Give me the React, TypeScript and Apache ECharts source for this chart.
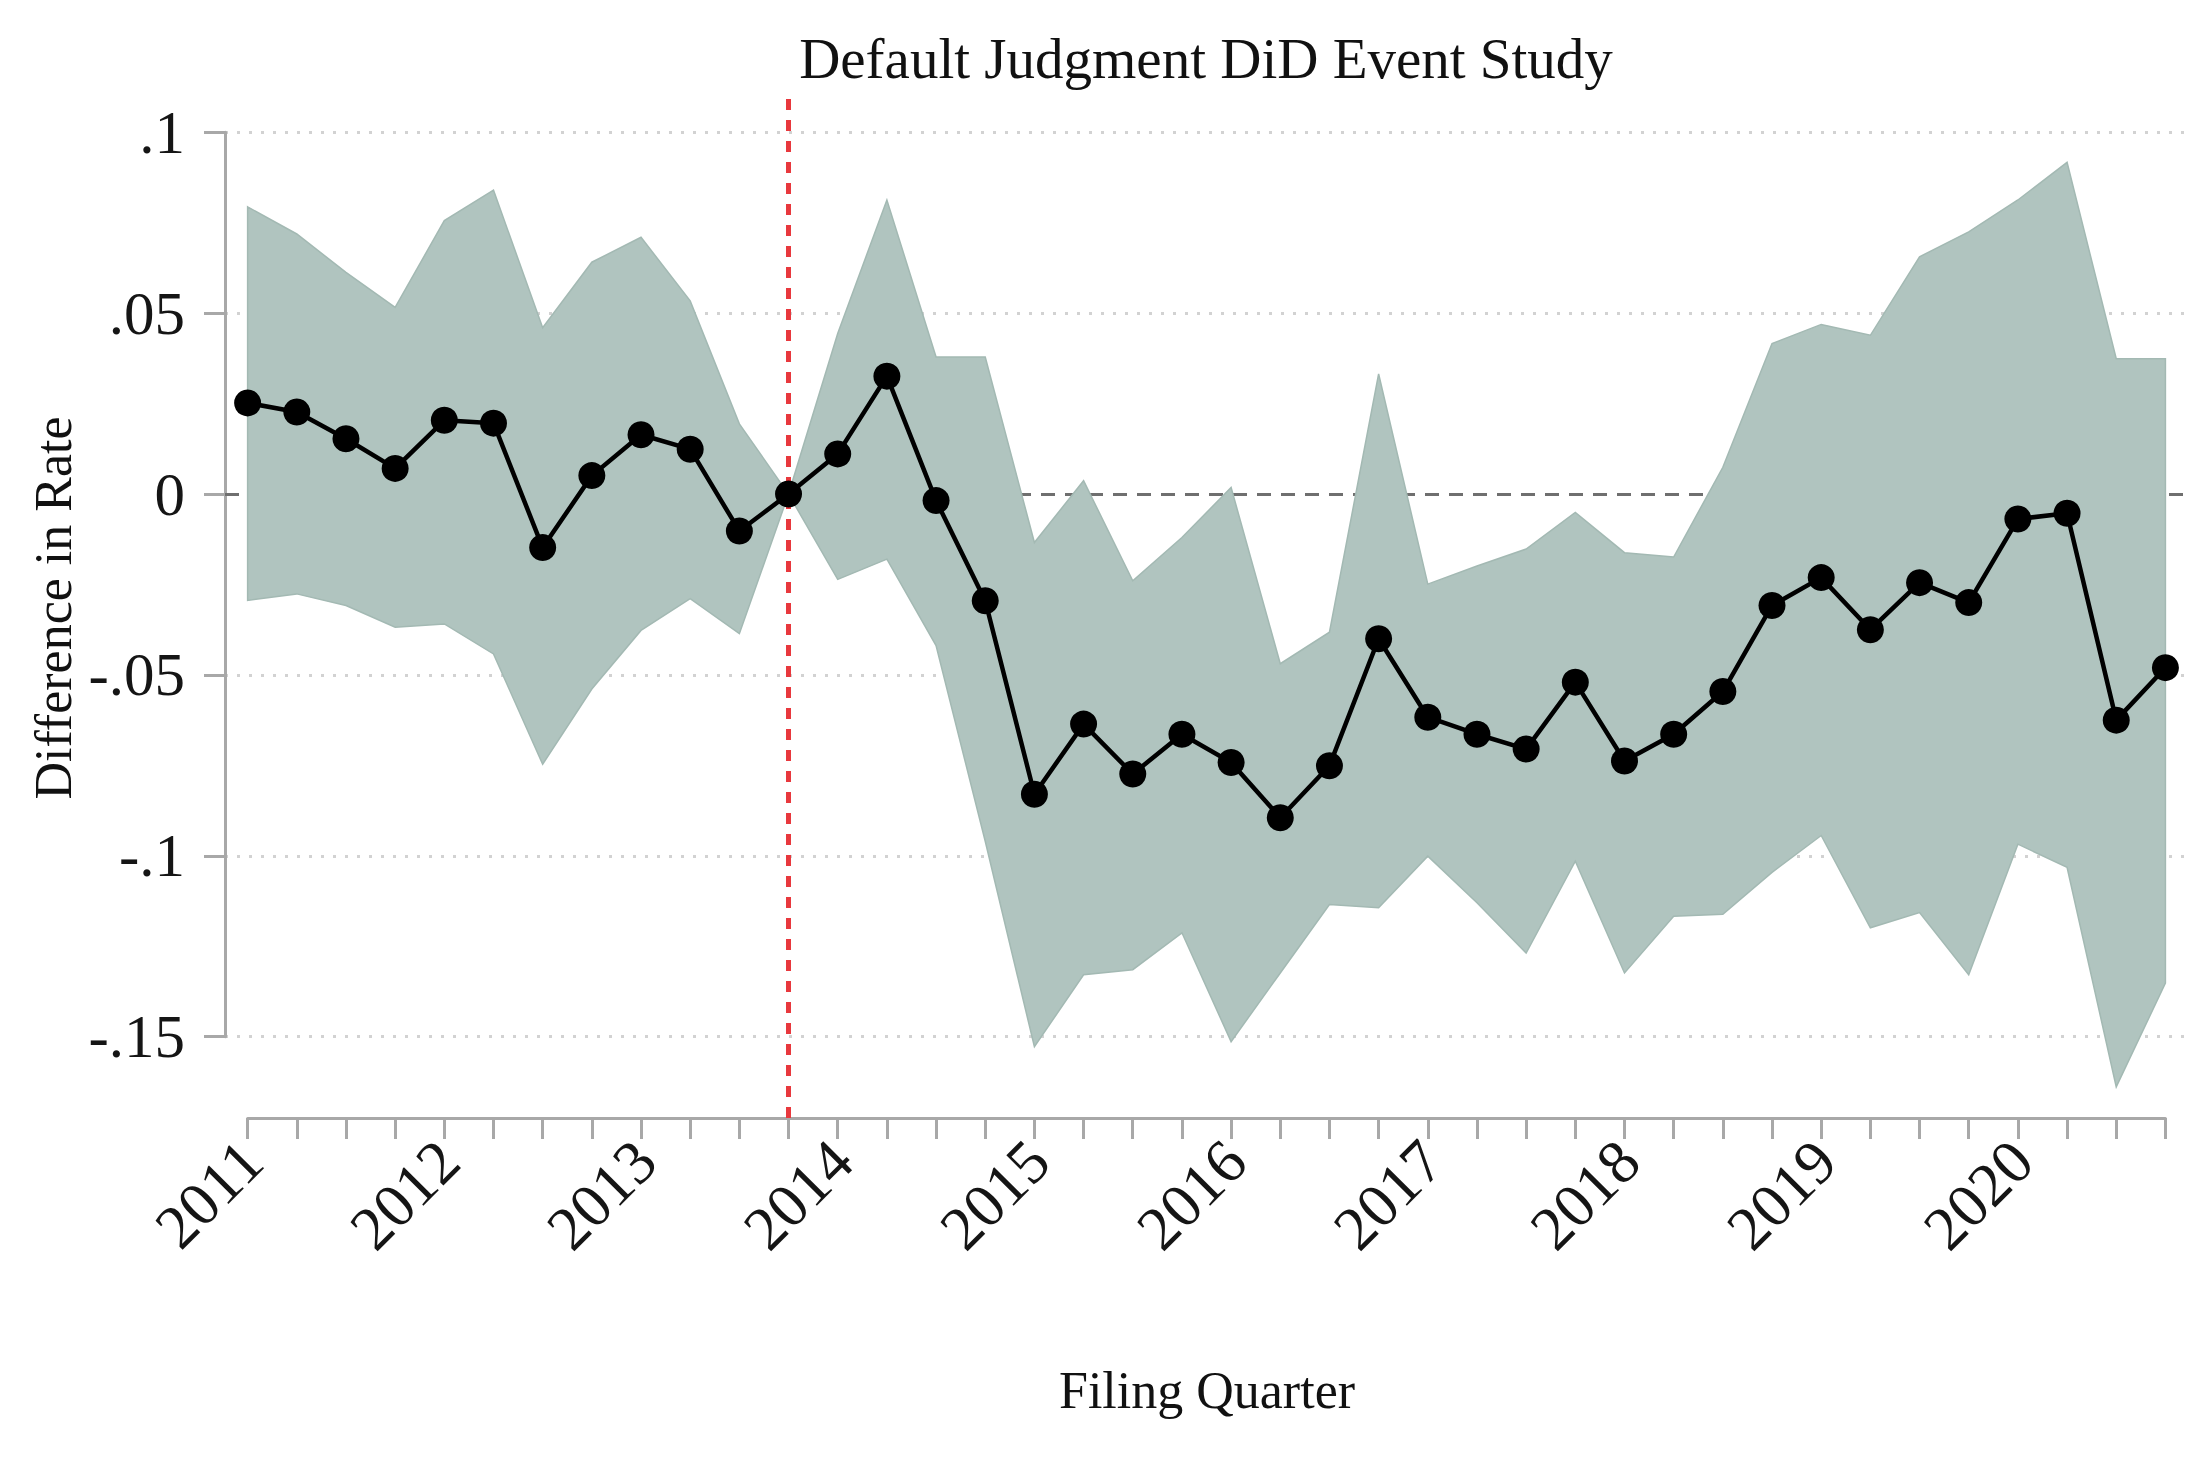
import React, { useEffect, useRef } from "react";
import * as echarts from "echarts";

// filing quarters on the x axis
const quarters = [
    "2011q1", "2011q2", "2011q3", "2011q4",
    "2012q1", "2012q2", "2012q3", "2012q4",
    "2013q1", "2013q2", "2013q3", "2013q4",
    "2014q1", "2014q2", "2014q3", "2014q4",
    "2015q1", "2015q2", "2015q3", "2015q4",
    "2016q1", "2016q2", "2016q3", "2016q4",
    "2017q1", "2017q2", "2017q3", "2017q4",
    "2018q1", "2018q2", "2018q3", "2018q4",
    "2019q1", "2019q2", "2019q3", "2019q4",
    "2020q1", "2020q2", "2020q3", "2020q4",
];

// point estimates (difference in rate)
const estimate = [
    0.0252, 0.0227, 0.0153, 0.0071, 0.0204, 0.0196, -0.0148, 0.0051, 0.0164, 0.0124,
    -0.0102, 0, 0.0111, 0.0326, -0.0018, -0.0295, -0.083, -0.0636, -0.0774, -0.0664,
    -0.0742, -0.0895, -0.0751, -0.04, -0.0617, -0.0664, -0.0705, -0.052, -0.0738, -0.0664,
    -0.0546, -0.0308, -0.0231, -0.0375, -0.0245, -0.03, -0.0069, -0.0053, -0.0625, -0.048,
];

// confidence band
const ciUpper = [
    0.0794, 0.0719, 0.0613, 0.0516, 0.0756, 0.084, 0.046, 0.0641, 0.071, 0.0534,
    0.0194, 0, 0.0444, 0.0813, 0.0379, 0.0379, -0.0134, 0.0037, -0.024, -0.012,
    0.0018, -0.0469, -0.0382, 0.0332, -0.0249, -0.0199, -0.0152, -0.0051, -0.0162, -0.0174,
    0.0074, 0.0416, 0.0469, 0.0439, 0.0656, 0.0725, 0.0813, 0.0917, 0.0374, 0.0374,
];
const ciLower = [
    -0.0294, -0.0276, -0.0308, -0.0368, -0.0359, -0.0442, -0.0747, -0.0539, -0.0377, -0.0289,
    -0.0386, 0, -0.0236, -0.018, -0.0419, -0.096, -0.1528, -0.1329, -0.1315, -0.1213,
    -0.1514, -0.1324, -0.1135, -0.1144, -0.1001, -0.113, -0.1269, -0.1015, -0.1324, -0.1167,
    -0.1162, -0.1046, -0.0944, -0.1199, -0.1157, -0.1329, -0.0968, -0.1032, -0.1639, -0.1352,
];

const eventQuarter = "2013q4";

const TITLE = "Default Judgment DiD Event Study";
const Y_NAME = "Difference in Rate";
const X_NAME = "Filing Quarter";

const SERIF = '"Liberation Serif", "Times New Roman", Times, serif';
const AXIS_GRAY = "#a8a8a8";
const GRID_GRAY = "#d2d2d2";
const BAND = "#b0c4bf";

function fmtRate(v: number) {
    const r = Math.round(v * 100) / 100;
    if (r === 0) return "0";
    const s = String(Math.abs(r)).replace(/^0/, "");
    return (r < 0 ? "-" : "") + s;
}

const App: React.FC = () => {
    const ref = useRef<HTMLDivElement | null>(null);

    useEffect(() => {
        if (!ref.current) return;
        const chart = echarts.init(ref.current, null, { renderer: "svg" });
        const eventIdx = quarters.indexOf(eventQuarter);

        chart.setOption({
            animation: false,
            backgroundColor: "#ffffff",
            grid: [
                // plot region (data)
                { left: 225, right: 18, top: 98, bottom: 342, outerBoundsMode: "none" },
                // y axis, spans .1 to -.15
                { left: 225, right: 18, top: 132.3, bottom: 423.3, outerBoundsMode: "none" },
                // x axis, spans first to last quarter
                { left: 247.6, right: 42.6, top: 1000, bottom: 342, outerBoundsMode: "none" },
            ],
            xAxis: [
                { gridIndex: 0, type: "value", min: -0.46, max: 39.5, show: false },
                { gridIndex: 1, type: "value", min: 0, max: 1, show: false },
                {
                    gridIndex: 2,
                    type: "category",
                    data: quarters,
                    boundaryGap: false,
                    axisLine: { show: true, onZero: false, lineStyle: { color: AXIS_GRAY, width: 3 } },
                    axisTick: {
                        show: true,
                        interval: 0,
                        inside: false,
                        length: 21,
                        lineStyle: { color: AXIS_GRAY, width: 3 },
                    },
                    axisLabel: {
                        interval: 3,
                        rotate: 45,
                        margin: 37,
                        padding: [0, -6, 0, 0],
                        fontFamily: SERIF,
                        fontSize: 62,
                        color: "#151515",
                        formatter: (v: string) => v.slice(0, 4),
                    },
                    splitLine: { show: false },
                },
            ],
            yAxis: [
                { gridIndex: 0, type: "value", min: -0.1725, max: 0.1095, show: false },
                {
                    gridIndex: 1,
                    type: "value",
                    min: -0.15,
                    max: 0.1,
                    interval: 0.05,
                    axisLine: { show: true, onZero: false, lineStyle: { color: AXIS_GRAY, width: 3 } },
                    axisTick: { show: true, length: 21, lineStyle: { color: AXIS_GRAY, width: 3 } },
                    axisLabel: {
                        margin: 40,
                        fontFamily: SERIF,
                        fontSize: 61,
                        color: "#151515",
                        formatter: fmtRate,
                    },
                    splitLine: {
                        show: true,
                        lineStyle: {
                            // the zero line is drawn separately, dashed
                            color: [GRID_GRAY, GRID_GRAY, GRID_GRAY, "rgba(0,0,0,0)", GRID_GRAY, GRID_GRAY],
                            width: 3,
                            type: [3, 9],
                        },
                    },
                },
                { gridIndex: 2, type: "value", min: 0, max: 1, show: false },
            ],
            graphic: [
                {
                    type: "text",
                    x: 1206,
                    y: 58,
                    silent: true,
                    style: {
                        text: TITLE,
                        fontFamily: SERIF,
                        fontSize: 57,
                        fill: "#111",
                        align: "center",
                        verticalAlign: "middle",
                        textAlign: "center",
                        textVerticalAlign: "middle",
                    },
                },
                {
                    type: "text",
                    x: 53,
                    y: 608,
                    rotation: Math.PI / 2,
                    silent: true,
                    style: {
                        text: Y_NAME,
                        fontFamily: SERIF,
                        fontSize: 52,
                        fill: "#111",
                        align: "center",
                        verticalAlign: "middle",
                        textAlign: "center",
                        textVerticalAlign: "middle",
                    },
                },
                {
                    type: "text",
                    x: 1207,
                    y: 1390,
                    silent: true,
                    style: {
                        text: X_NAME,
                        fontFamily: SERIF,
                        fontSize: 52,
                        fill: "#111",
                        align: "center",
                        verticalAlign: "middle",
                        textAlign: "center",
                        textVerticalAlign: "middle",
                    },
                },
            ],
            series: [
                {
                    name: "95% CI",
                    type: "custom",
                    xAxisIndex: 0,
                    yAxisIndex: 0,
                    z: 2,
                    silent: true,
                    data: quarters.map((q, i) => [i, ciLower[i], ciUpper[i]]),
                    encode: { x: 0, y: [1, 2] },
                    renderItem: (params: any, api: any) => {
                        if (params.dataIndex !== 0) return null;
                        const top = quarters.map((q, i) => api.coord([i, ciUpper[i]]));
                        const bottom = quarters.map((q, i) => api.coord([i, ciLower[i]])).reverse();
                        return {
                            type: "polygon",
                            shape: { points: top.concat(bottom) },
                            style: { fill: BAND, stroke: "#a3b9b3", lineWidth: 1.5 },
                        };
                    },
                    markLine: {
                        silent: true,
                        z: 1,
                        symbol: "none",
                        label: { show: false },
                        lineStyle: { color: "#6f6f6f", width: 3, type: [14, 10] },
                        data: [{ yAxis: 0 }],
                    },
                },
                {
                    name: "Estimate",
                    type: "line",
                    xAxisIndex: 0,
                    yAxisIndex: 0,
                    z: 4,
                    data: quarters.map((q, i) => [i, estimate[i]]),
                    symbol: "circle",
                    symbolSize: 27,
                    showSymbol: true,
                    itemStyle: { color: "#000" },
                    lineStyle: { color: "#000", width: 4.5 },
                    markLine: {
                        silent: true,
                        z: 3,
                        symbol: "none",
                        label: { show: false },
                        lineStyle: { color: "#e8383d", width: 5, type: [11, 10] },
                        data: [{ xAxis: eventIdx }],
                    },
                },
            ],
        });

        return () => {
            chart.dispose();
        };
    }, []);

    return (
        <div
            ref={ref}
            style={{ position: "fixed", left: 0, top: 0, width: 2208, height: 1460, background: "#fff" }}
        />
    );
};

export default App;
